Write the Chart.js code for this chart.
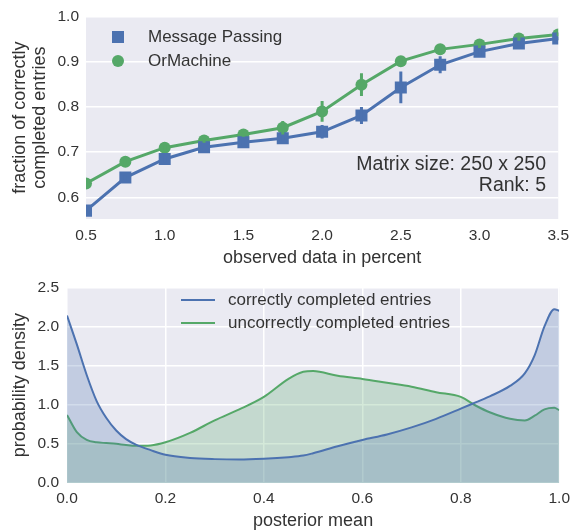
<!DOCTYPE html>
<html>
<head>
<meta charset="utf-8">
<script src="https://cdn.jsdelivr.net/npm/chart.js@4"></script>
<style>
  body { margin: 0; background: #fff; }
  canvas { position: absolute; left: 0; }
  #topChart { top: 0; }
  #bottomChart { top: 270px; }
</style>
</head>
<body>
<canvas id="topChart" width="576" height="270"></canvas>
<canvas id="bottomChart" width="576" height="261"></canvas>
<script>
// top panel: completion accuracy vs observed data
const observedPercent = [0.5, 0.75, 1.0, 1.25, 1.5, 1.75, 2.0, 2.25, 2.5, 2.75, 3.0, 3.25, 3.5];
const messagePassing = [0.571, 0.644, 0.685, 0.711, 0.722, 0.731, 0.745, 0.781, 0.843, 0.893, 0.922, 0.940, 0.951];
const messagePassingErr = [0.005, 0.005, 0.007, 0.005, 0.005, 0.005, 0.015, 0.019, 0.035, 0.019, 0.011, 0.005, 0.004];
const orMachine = [0.631, 0.679, 0.710, 0.726, 0.739, 0.754, 0.790, 0.849, 0.901, 0.927, 0.938, 0.951, 0.960];
const orMachineErr = [0.005, 0.005, 0.005, 0.005, 0.005, 0.015, 0.023, 0.025, 0.006, 0.006, 0.008, 0.005, 0.004];
const topXTicks = [0.5, 1.0, 1.5, 2.0, 2.5, 3.0, 3.5];
const topYTicks = [0.6, 0.7, 0.8, 0.9, 1.0];

// bottom panel: densities of the posterior mean
const posteriorMean = [0, 0.02, 0.04, 0.06, 0.08, 0.1, 0.12, 0.14, 0.17, 0.2, 0.25, 0.3, 0.35, 0.4, 0.45, 0.48, 0.5,
  0.55, 0.6, 0.65, 0.7, 0.75, 0.8, 0.83, 0.86, 0.9, 0.93, 0.95, 0.97, 0.99, 1.0];
const correctDensity = [2.14, 1.77, 1.38, 1.05, 0.83, 0.67, 0.56, 0.49, 0.42, 0.36, 0.32, 0.305, 0.30, 0.31, 0.33, 0.35, 0.38,
  0.47, 0.55, 0.62, 0.71, 0.82, 0.95, 1.03, 1.11, 1.24, 1.40, 1.63, 2.0, 2.22, 2.20];
const incorrectDensity = [0.87, 0.65, 0.55, 0.52, 0.51, 0.50, 0.485, 0.475, 0.48, 0.52, 0.64, 0.80, 0.94, 1.10, 1.33, 1.42, 1.43,
  1.37, 1.33, 1.28, 1.23, 1.16, 1.10, 0.99, 0.90, 0.82, 0.80, 0.86, 0.94, 0.96, 0.93];
const bottomXTicks = [0, 0.2, 0.4, 0.6, 0.8, 1.0];
const bottomYTicks = [0, 0.5, 1.0, 1.5, 2.0, 2.5];

const BLUE = '#4C72B0';
const GREEN = '#55A868';
const FONT = "'Liberation Sans', Arial, sans-serif";
const TEXT = '#333';

Chart.defaults.font.family = FONT;
Chart.defaults.color = TEXT;

const pairs = (xs, ys) => xs.map((x, i) => ({ x: x, y: ys[i] }));

// grey plot background like seaborn darkgrid
const plotBg = {
  id: 'plotBg',
  beforeDraw(chart) {
    const a = chart.chartArea;
    chart.ctx.save();
    chart.ctx.fillStyle = '#EAEAF2';
    chart.ctx.fillRect(a.left, a.top, a.right - a.left, a.bottom - a.top);
    chart.ctx.restore();
  }
};

const errorBars = {
  id: 'errorBars',
  afterDatasetsDraw(chart) {
    const { ctx, chartArea, scales } = chart;
    ctx.save();
    ctx.beginPath();
    ctx.rect(chartArea.left, chartArea.top, chartArea.right - chartArea.left, chartArea.bottom - chartArea.top);
    ctx.clip();
    chart.data.datasets.forEach((ds) => {
      if (!ds.errors) return;
      ctx.strokeStyle = ds.borderColor;
      ctx.lineWidth = 3;
      ds.data.forEach((p, i) => {
        const x = scales.x.getPixelForValue(p.x);
        ctx.beginPath();
        ctx.moveTo(x, scales.y.getPixelForValue(p.y - ds.errors[i]));
        ctx.lineTo(x, scales.y.getPixelForValue(p.y + ds.errors[i]));
        ctx.stroke();
      });
    });
    ctx.restore();
  }
};

const topLegend = {
  id: 'topLegend',
  afterDraw(chart) {
    const ctx = chart.ctx;
    ctx.save();
    ctx.font = '17px ' + FONT;
    ctx.textBaseline = 'middle';
    chart.data.datasets.forEach((ds, i) => {
      const y = 37 + i * 24;
      ctx.fillStyle = ds.borderColor;
      if (ds.pointStyle === 'rect') {
        ctx.fillRect(112, y - 6, 12, 12);
      } else {
        ctx.beginPath();
        ctx.arc(118, y, 6, 0, Math.PI * 2);
        ctx.fill();
      }
      ctx.fillStyle = TEXT;
      ctx.fillText(ds.label, 148, y);
    });
    // annotation
    ctx.font = '19.5px ' + FONT;
    ctx.textAlign = 'right';
    ctx.fillText('Matrix size: 250 x 250', 546, 165);
    ctx.fillText('Rank: 5', 546, 186);
    ctx.restore();
  }
};

const bottomLegend = {
  id: 'bottomLegend',
  afterDraw(chart) {
    const ctx = chart.ctx;
    ctx.save();
    ctx.font = '17px ' + FONT;
    ctx.textBaseline = 'middle';
    chart.data.datasets.forEach((ds, i) => {
      const y = 30 + i * 23;
      ctx.strokeStyle = ds.borderColor;
      ctx.lineWidth = 2;
      ctx.beginPath();
      ctx.moveTo(181, y);
      ctx.lineTo(215, y);
      ctx.stroke();
      ctx.fillStyle = TEXT;
      ctx.fillText(ds.label, 228, y);
    });
    ctx.restore();
  }
};

const fixedTicks = (list) => (scale) => { scale.ticks = list.map((v) => ({ value: v })); };

new Chart(document.getElementById('topChart'), {
  type: 'line',
  data: {
    datasets: [{
      label: 'Message Passing',
      data: pairs(observedPercent, messagePassing),
      errors: messagePassingErr,
      borderColor: BLUE,
      backgroundColor: BLUE,
      borderWidth: 3,
      pointStyle: 'rect',
      pointRadius: 8.5,
      pointBorderWidth: 0,
      clip: 0
    }, {
      label: 'OrMachine',
      data: pairs(observedPercent, orMachine),
      errors: orMachineErr,
      borderColor: GREEN,
      backgroundColor: GREEN,
      borderWidth: 3,
      pointStyle: 'circle',
      pointRadius: 6,
      pointBorderWidth: 0,
      clip: 0
    }]
  },
  options: {
    responsive: false,
    animation: false,
    events: [],
    layout: { padding: { top: 15, right: 13, left: 0, bottom: 0 } },
    plugins: { legend: { display: false }, tooltip: { enabled: false } },
    scales: {
      x: {
        type: 'linear', min: 0.5, max: 3.5,
        afterBuildTicks: fixedTicks(topXTicks),
        afterFit: (s) => { s.height = 51; },
        grid: { display: false, drawTicks: false },
        border: { display: false },
        ticks: { padding: 7, font: { size: 15.5 }, callback: (v) => v.toFixed(1) },
        title: { display: true, text: 'observed data in percent', font: { size: 18, lineHeight: 1.1 }, padding: { top: 0, bottom: 2 } }
      },
      y: {
        min: 0.5525, max: 1.0,
        afterBuildTicks: fixedTicks(topYTicks),
        afterFit: (s) => { s.width = 86; },
        grid: { color: '#ffffff', lineWidth: 1.5, drawTicks: false },
        border: { display: false },
        ticks: { padding: 7, font: { size: 15.5 }, callback: (v) => v.toFixed(1) },
        title: { display: true, text: ['fraction of correctly', 'completed entries'], font: { size: 18, lineHeight: 1.1 }, padding: { top: 10, bottom: 0 } }
      }
    }
  },
  plugins: [plotBg, errorBars, topLegend]
});

new Chart(document.getElementById('bottomChart'), {
  type: 'line',
  data: {
    datasets: [{
      label: 'correctly completed entries',
      data: pairs(posteriorMean, correctDensity),
      borderColor: BLUE,
      backgroundColor: 'rgba(76,114,176,0.25)',
      borderWidth: 2,
      fill: 'origin',
      pointRadius: 0,
      cubicInterpolationMode: 'monotone',
      clip: 0
    }, {
      label: 'uncorrectly completed entries',
      data: pairs(posteriorMean, incorrectDensity),
      borderColor: GREEN,
      backgroundColor: 'rgba(85,168,104,0.25)',
      borderWidth: 2,
      fill: 'origin',
      pointRadius: 0,
      cubicInterpolationMode: 'monotone',
      clip: 0
    }]
  },
  options: {
    responsive: false,
    animation: false,
    events: [],
    layout: { padding: { top: 8, right: 13, left: 0, bottom: 0 } },
    plugins: { legend: { display: false }, tooltip: { enabled: false }, filler: { propagate: false } },
    scales: {
      x: {
        type: 'linear', min: 0, max: 1,
        afterBuildTicks: fixedTicks(bottomXTicks),
        afterFit: (s) => { s.height = 48; },
        grid: { color: '#ffffff', lineWidth: 1.5, drawTicks: false },
        border: { display: false },
        ticks: { padding: 6, font: { size: 15.5 }, callback: (v) => v.toFixed(1) },
        title: { display: true, text: 'posterior mean', font: { size: 18, lineHeight: 1.1 }, padding: { top: 0, bottom: 0 } }
      },
      y: {
        min: 0, max: 2.5,
        afterBuildTicks: fixedTicks(bottomYTicks),
        afterFit: (s) => { s.width = 67; },
        grid: { color: '#ffffff', lineWidth: 1.5, drawTicks: false },
        border: { display: false },
        ticks: { padding: 8, font: { size: 15.5 }, callback: (v) => v.toFixed(1) },
        title: { display: true, text: 'probability density', font: { size: 18, lineHeight: 1.1 }, padding: { top: 10, bottom: 0 } }
      }
    }
  },
  plugins: [plotBg, bottomLegend]
});
</script>
</body>
</html>
